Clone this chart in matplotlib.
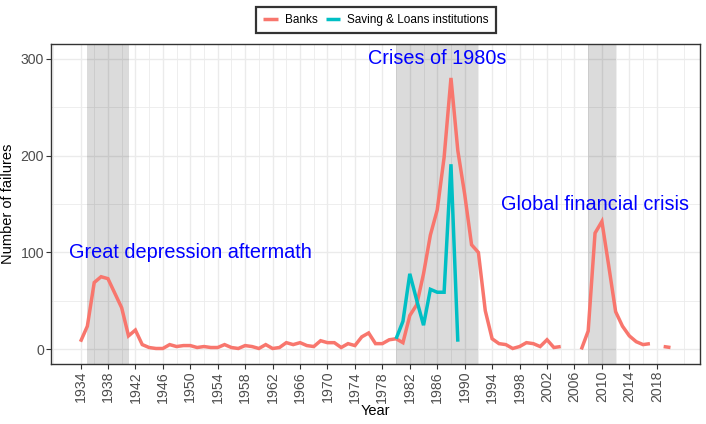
import numpy as np
import matplotlib
matplotlib.use("Agg")
import matplotlib.pyplot as plt

plt.rcParams['font.family'] = ['Liberation Sans', 'DejaVu Sans']

years = list(range(1934, 2021))
banks = [8, 24, 69, 75, 73, 58, 43, 14, 20, 5,
         2, 1, 1, 5, 3, 4, 4, 2, 3, 2,
         2, 5, 2, 1, 4, 3, 1, 5, 1, 2,
         7, 5, 7, 4, 3, 9, 7, 7, 2, 6,
         4, 13, 17, 6, 6, 10, 11, 7, 35, 46,
         78, 118, 144, 198, 280, 205, 160, 108, 100, 40,
         11, 6, 5, 1, 3, 7, 6, 3, 10, 2,
         3, np.nan, np.nan, 0, 19, 120, 132, 86, 39, 24,
         14, 8, 5, 6, np.nan, 3, 2]
sl_years = list(range(1980, 1990))
sl_values = [11, 29, 78, 51, 25, 62, 59, 59, 191, 8]

crises = [(1935, 1941), (1980, 1992), (2008, 2012)]
labels = ["Great depression aftermath", "Crises of 1980s", "Global financial crisis"]
label_x = [1950, 1986, 2009]
label_y = [100, 300, 150]

x_ticks = list(range(1934, 2021, 4))
y_ticks = [0, 100, 200, 300]

fig = plt.figure(figsize=(7.06, 4.24), dpi=100)
ax = fig.add_axes([51/706, 60/424, 649/706, 320/424])

ax.set_xlim(1929.7, 2024.3)
ax.set_ylim(-15, 315)

ax.set_xticks(x_ticks)
ax.set_xticks([t + 2 for t in x_ticks[:-1]] + [1930, 2022], minor=True)
ax.set_yticks(y_ticks)
ax.set_yticks([50, 150, 250], minor=True)
ax.grid(which='major', color='#EBEBEB', linewidth=1.0, zorder=0)
ax.grid(which='minor', color='#EBEBEB', linewidth=0.6, zorder=0)
ax.set_axisbelow(True)
ax.tick_params(which='minor', length=0)
ax.tick_params(which='major', length=3.5, width=0.8, color='#333333',
               labelsize=10.2, labelcolor='#4D4D4D', pad=1.5)
ax.tick_params(axis='x', labelrotation=90)
for s in ax.spines.values():
    s.set_color('#333333')
    s.set_linewidth(1.0)

for (a, b) in crises:
    ax.axvspan(a, b, facecolor='black', alpha=0.14, linewidth=0, zorder=1)

ax.plot(years, banks, color='#F8766D', linewidth=2.5, label='Banks',
        solid_joinstyle='miter', solid_capstyle='butt', zorder=3)
ax.plot(sl_years, sl_values, color='#00BFC4', linewidth=2.5,
        label='Saving & Loans institutions', solid_joinstyle='miter',
        solid_capstyle='butt', zorder=4)

for t, x, y in zip(labels, label_x, label_y):
    ax.text(x, y, t, color='blue', fontsize=14.3, ha='center', va='center', zorder=5)

ax.set_xlabel('Year', fontsize=10.5)
ax.set_ylabel('Number of failures', fontsize=10.5)
ax.xaxis.set_label_coords(0.5, (364 - 404) / 320)
ax.yaxis.set_label_coords((15 - 51) / 649, 0.5)

leg = fig.legend(loc='center', bbox_to_anchor=(376/706, 1 - 20/424), ncol=2,
                 fontsize=8.5, frameon=True, fancybox=False, edgecolor='black',
                 handlelength=1.2, handletextpad=0.6, columnspacing=0.7,
                 borderpad=0.6, borderaxespad=0)
leg.get_frame().set_linewidth(1.6)

fig.savefig('out.png', dpi=100)
